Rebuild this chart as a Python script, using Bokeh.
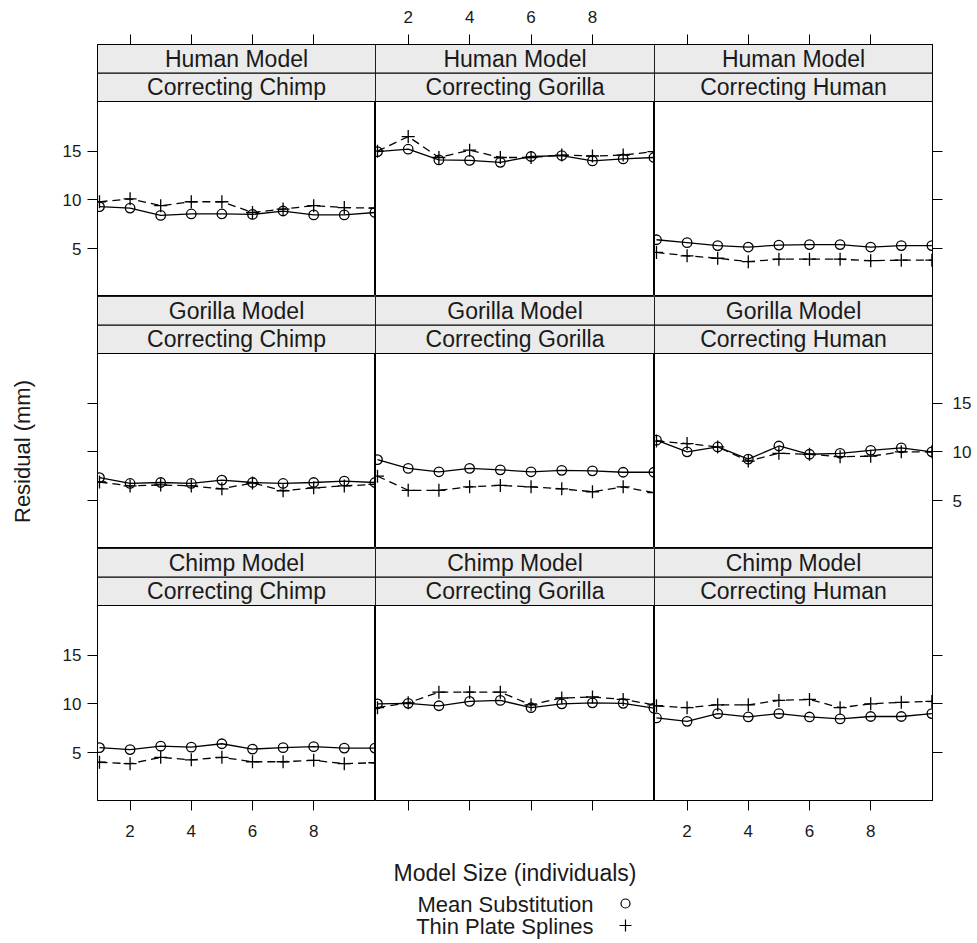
import math
from bokeh.plotting import figure
from bokeh.models import Range1d, LinearAxis, FixedTicker
from bokeh.layouts import gridplot, column, row
from bokeh.embed import file_html
from bokeh.resources import INLINE
from bokeh.core.properties import value

# ---------------- data ----------------
model_size = [1, 2, 3, 4, 5, 6, 7, 8, 9, 10]
row_models = ["Human Model", "Gorilla Model", "Chimp Model"]
col_targets = ["Correcting Chimp", "Correcting Gorilla", "Correcting Human"]
series_names = ["Mean Substitution", "Thin Plate Splines"]
x_label = "Model Size (individuals)"
y_label = "Residual (mm)"
x_ticks = [2, 4, 6, 8]
y_ticks = [5, 10, 15]

ms_human_chimp = [9.3, 9.15, 8.4, 8.55, 8.55, 8.5, 8.85, 8.45, 8.45, 8.7]
tps_human_chimp = [9.8, 10.1, 9.4, 9.8, 9.8, 8.7, 9.05, 9.4, 9.2, 9.15]
ms_human_gorilla = [14.95, 15.2, 14.1, 14.05, 13.85, 14.45, 14.55, 14.0, 14.2, 14.35]
tps_human_gorilla = [15.0, 16.5, 14.35, 15.1, 14.35, 14.35, 14.6, 14.5, 14.6, 14.95]
ms_human_human = [5.9, 5.6, 5.3, 5.15, 5.35, 5.4, 5.4, 5.15, 5.3, 5.3]
tps_human_human = [4.6, 4.25, 4.0, 3.65, 3.9, 3.9, 3.9, 3.75, 3.8, 3.8]

ms_gorilla_chimp = [7.35, 6.75, 6.85, 6.75, 7.1, 6.85, 6.75, 6.85, 7.0, 6.85]
tps_gorilla_chimp = [6.9, 6.5, 6.6, 6.5, 6.2, 6.8, 6.0, 6.3, 6.5, 6.65]
ms_gorilla_gorilla = [9.2, 8.3, 7.95, 8.3, 8.15, 7.95, 8.1, 8.05, 7.9, 7.9]
tps_gorilla_gorilla = [7.5, 6.05, 6.05, 6.4, 6.55, 6.4, 6.2, 5.9, 6.4, 5.8]
ms_gorilla_human = [11.2, 10.0, 10.5, 9.25, 10.6, 9.75, 9.85, 10.15, 10.4, 10.0]
tps_gorilla_human = [11.1, 10.85, 10.5, 9.05, 9.85, 9.75, 9.5, 9.55, 10.0, 10.0]

ms_chimp_chimp = [5.5, 5.3, 5.65, 5.55, 5.9, 5.35, 5.5, 5.6, 5.45, 5.45]
tps_chimp_chimp = [4.0, 3.85, 4.5, 4.25, 4.5, 4.05, 4.05, 4.2, 3.85, 3.95]
ms_chimp_gorilla = [10.0, 10.05, 9.8, 10.25, 10.35, 9.6, 10.0, 10.1, 10.05, 9.55]
tps_chimp_gorilla = [9.6, 10.1, 11.2, 11.2, 11.2, 9.9, 10.6, 10.7, 10.45, 9.9]
ms_chimp_human = [8.55, 8.2, 9.0, 8.65, 9.0, 8.65, 8.45, 8.7, 8.7, 9.0]
tps_chimp_human = [9.8, 9.6, 9.9, 9.9, 10.35, 10.45, 9.6, 10.0, 10.15, 10.25]

ms_grid = [
    [ms_human_chimp, ms_human_gorilla, ms_human_human],
    [ms_gorilla_chimp, ms_gorilla_gorilla, ms_gorilla_human],
    [ms_chimp_chimp, ms_chimp_gorilla, ms_chimp_human],
]
tps_grid = [
    [tps_human_chimp, tps_human_gorilla, tps_human_human],
    [tps_gorilla_chimp, tps_gorilla_gorilla, tps_gorilla_human],
    [tps_chimp_chimp, tps_chimp_gorilla, tps_chimp_human],
]

# ---------------- layout / style ----------------
W, H = 977, 943
FONT = "Liberation Sans"
INK = "#1a1a1a"
STRIP_FILL = "#ebebeb"
YLAB_W = 45                      # strip of page holding the y label
FRAME_W = [278, 279, 278]
LEFT_B, RIGHT_B, TOP_B, BOTTOM_B = 97 - YLAB_W, 45, 44, 48
PLOT_H, STRIP_H = 195, 28.5
FRAME_H = int(PLOT_H + 2 * STRIP_H)
X_LO, X_HI = 0.935, 10.02
Y_LO, Y_HI = 0.07, 20.1
strip_units = STRIP_H * (Y_HI - Y_LO) / PLOT_H
Y_TOP = Y_HI + 2 * strip_units
GRID_BOTTOM = TOP_B + 3 * FRAME_H + BOTTOM_B
KEY_H = H - GRID_BOTTOM


def style_axis(ax, show_labels, standoff):
    ax.major_tick_out = 10
    ax.major_tick_in = 0
    ax.minor_tick_out = 0
    ax.minor_tick_in = 0
    ax.axis_line_color = "black"
    ax.major_tick_line_color = "black"
    ax.major_label_text_font = FONT
    ax.major_label_text_font_size = "17px"
    ax.major_label_text_color = INK if show_labels else None
    ax.major_label_standoff = standoff


def make_panel(r, c):
    w = FRAME_W[c] + (LEFT_B if c == 0 else 0) + (RIGHT_B if c == 2 else 0)
    h = FRAME_H + (TOP_B if r == 0 else 0) + (BOTTOM_B if r == 2 else 0)
    p = figure(width=w, height=h, x_range=Range1d(X_LO, X_HI), y_range=Range1d(Y_LO, Y_TOP),
               output_backend="svg", toolbar_location=None, title=None,
               x_axis_location=None, y_axis_location=None, min_border=0,
               min_border_left=LEFT_B if c == 0 else 0,
               min_border_right=RIGHT_B if c == 2 else 0,
               min_border_top=TOP_B if r == 0 else 0,
               min_border_bottom=BOTTOM_B if r == 2 else 0)
    p.grid.visible = False
    p.outline_line_color = "black"
    p.outline_line_width = 1
    p.background_fill_color = "white"
    p.border_fill_color = "white"

    # strips
    p.quad(left=X_LO, right=X_HI, bottom=Y_HI, top=Y_HI + strip_units,
           fill_color=STRIP_FILL, line_color="black", line_width=1)
    p.quad(left=X_LO, right=X_HI, bottom=Y_HI + strip_units, top=Y_TOP,
           fill_color=STRIP_FILL, line_color="black", line_width=1)
    p.text(x=[(X_LO + X_HI) / 2] * 2,
           y=[Y_HI + strip_units / 2, Y_HI + 1.5 * strip_units],
           text=[col_targets[c], row_models[r]],
           text_align="center", text_baseline="middle",
           text_font=value(FONT), text_font_size="23px", text_color=INK)

    ms = ms_grid[r][c]
    tps = tps_grid[r][c]
    p.line(model_size, ms, line_color="black", line_width=1.3)
    p.scatter(model_size, ms, marker="circle", size=9.5, fill_color=None,
              line_color="black", line_width=1.3)
    p.line(model_size, tps, line_color="black", line_width=1.3, line_dash="8 5")
    p.scatter(model_size, tps, marker="cross", size=13, line_color="black", line_width=1.3)

    # axes (alternating lattice style)
    if c == 0:
        ax = LinearAxis(ticker=FixedTicker(ticks=y_ticks))
        style_axis(ax, r != 1, 6)
        p.add_layout(ax, "left")
    if c == 2:
        ax = LinearAxis(ticker=FixedTicker(ticks=y_ticks))
        style_axis(ax, r == 1, 10)
        p.add_layout(ax, "right")
    if r == 0:
        ax = LinearAxis(ticker=FixedTicker(ticks=x_ticks))
        style_axis(ax, c == 1, 12)
        p.add_layout(ax, "above")
    if r == 2:
        ax = LinearAxis(ticker=FixedTicker(ticks=x_ticks))
        style_axis(ax, c != 1, 14)
        p.add_layout(ax, "below")
    return p


rows = [[make_panel(r, c) for c in range(3)] for r in range(3)]
grid = gridplot(rows, toolbar_location=None)

# x label and key below the panels (page pixel coordinates)
key = figure(width=W - YLAB_W, height=KEY_H, x_range=Range1d(YLAB_W, W),
             y_range=Range1d(H, GRID_BOTTOM),
             output_backend="svg", toolbar_location=None, title=None,
             x_axis_location=None, y_axis_location=None, min_border=0)
key.grid.visible = False
key.outline_line_color = None
panels_center_x = 97 + sum(FRAME_W) / 2
key.text(x=[panels_center_x], y=[872], text=[x_label], text_align="center",
         text_baseline="middle", text_font=value(FONT), text_font_size="23px", text_color=INK)
key_y = [904, 926]
key.text(x=[593, 593], y=key_y, text=series_names, text_align="right", text_baseline="middle",
         text_font=value(FONT), text_font_size="22px", text_color=INK)
key.scatter(x=[625], y=[key_y[0] - 1], marker="circle", size=9, fill_color=None,
            line_color="black", line_width=1.2)
key.scatter(x=[625], y=[key_y[1] - 1], marker="cross", size=12, line_color="black",
            line_width=1.2)

# y label strip on the left
ylab = figure(width=YLAB_W, height=H, x_range=Range1d(0, YLAB_W), y_range=Range1d(H, 0),
              output_backend="svg", toolbar_location=None, title=None,
              x_axis_location=None, y_axis_location=None, min_border=0)
ylab.grid.visible = False
ylab.outline_line_color = None
ylab.text(x=[22], y=[451], text=[y_label], angle=math.pi / 2, text_align="center",
          text_baseline="middle", text_font=value(FONT), text_font_size="22px", text_color=INK)

layout = row(ylab, column(grid, key))
open("out.html", "w").write(file_html(layout, INLINE))
